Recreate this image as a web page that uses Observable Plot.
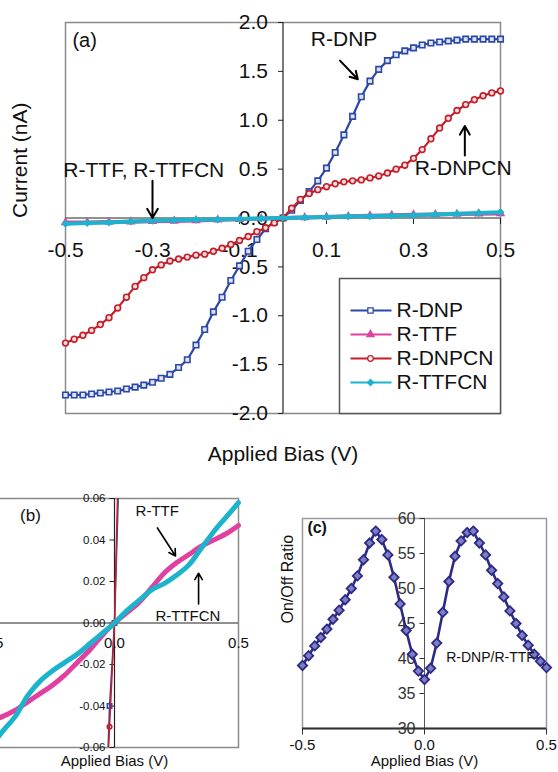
<!DOCTYPE html>
<html><head><meta charset="utf-8">
<script src="https://cdn.jsdelivr.net/npm/d3@7"></script>
<script src="https://cdn.jsdelivr.net/npm/@observablehq/plot@0.6"></script>
<style>
html,body{margin:0;padding:0;background:#fff;}
#fig{position:relative;width:558px;height:772px;overflow:hidden;background:#fff;}
</style></head><body><div id="fig"></div>
<script>
// ---------- data ----------
const biasA = [-0.50,-0.48,-0.46,-0.44,-0.42,-0.40,-0.38,-0.36,-0.34,-0.32,-0.30,-0.28,-0.26,-0.24,-0.22,-0.20,-0.18,-0.16,-0.14,-0.12,-0.10,-0.08,-0.06,-0.04,-0.02,0.00,0.02,0.04,0.06,0.08,0.10,0.12,0.14,0.16,0.18,0.20,0.22,0.24,0.26,0.28,0.30,0.32,0.34,0.36,0.38,0.40,0.42,0.44,0.46,0.48,0.50];
const currentDNP = [-1.81,-1.81,-1.81,-1.80,-1.79,-1.78,-1.77,-1.75,-1.73,-1.71,-1.68,-1.64,-1.60,-1.53,-1.45,-1.30,-1.14,-0.96,-0.81,-0.64,-0.49,-0.34,-0.22,-0.11,-0.04,0.00,0.08,0.18,0.27,0.38,0.51,0.67,0.85,1.04,1.24,1.40,1.52,1.61,1.67,1.71,1.74,1.77,1.79,1.80,1.81,1.82,1.83,1.83,1.83,1.83,1.83];
const currentDNPCN = [-1.28,-1.24,-1.20,-1.15,-1.09,-1.02,-0.92,-0.81,-0.70,-0.61,-0.53,-0.48,-0.44,-0.42,-0.40,-0.38,-0.37,-0.34,-0.31,-0.27,-0.23,-0.19,-0.14,-0.10,-0.05,0.00,0.10,0.19,0.25,0.29,0.32,0.35,0.37,0.38,0.39,0.41,0.43,0.46,0.50,0.54,0.61,0.70,0.81,0.92,1.02,1.10,1.16,1.21,1.25,1.28,1.30];
const biasB = [-0.50,-0.45,-0.40,-0.35,-0.30,-0.25,-0.20,-0.15,-0.10,-0.05,0.00,0.05,0.10,0.15,0.20,0.25,0.30,0.35,0.40,0.45,0.50];
const currentTTF = [-0.047,-0.045,-0.042,-0.038,-0.034,-0.030,-0.025,-0.019,-0.013,-0.006,0.000,0.005,0.010,0.017,0.024,0.029,0.033,0.037,0.040,0.043,0.047];
const currentTTFCN = [-0.060,-0.052,-0.045,-0.035,-0.028,-0.023,-0.019,-0.015,-0.010,-0.005,0.000,0.006,0.011,0.016,0.019,0.023,0.028,0.036,0.044,0.051,0.058];
const biasC = [-0.500,-0.475,-0.450,-0.425,-0.400,-0.375,-0.350,-0.325,-0.300,-0.275,-0.250,-0.225,-0.200,-0.175,-0.150,-0.125,-0.100,-0.075,-0.050,-0.025,0.000,0.025,0.050,0.075,0.100,0.125,0.150,0.175,0.200,0.225,0.250,0.275,0.300,0.325,0.350,0.375,0.400,0.425,0.450,0.475,0.500];
const onOffRatio = [39.0,40.4,41.8,43.0,44.2,45.6,46.9,48.4,50.0,51.8,54.1,56.5,58.2,57.0,54.8,51.6,47.8,44.0,40.6,38.2,37.0,38.6,42.2,46.6,51.0,54.6,56.8,58.0,58.2,56.5,54.8,52.6,50.7,48.8,46.8,45.0,43.3,41.9,40.6,39.6,38.7];

const seriesNames = ["R-DNP","R-TTF","R-DNPCN","R-TTFCN"];
const yTicksA = [-2.0,-1.5,-1.0,-0.5,0.0,0.5,1.0,1.5,2.0];
const xTicksA = [-0.5,-0.3,-0.1,0.1,0.3,0.5];
const yTicksB = [-0.06,-0.04,-0.02,0.00,0.02,0.04,0.06];
const xTicksB = [-0.5,0.0,0.5];
const yTicksC = [30,35,40,45,50,55,60];
const xTicksC = [-0.5,0.0,0.5];

// ---------- styles ----------
const FONT = '"Liberation Sans", Arial, Helvetica, sans-serif';
const PALETTE = {"R-DNP":"#2b48a8","R-TTF":"#e0409f","R-DNPCN":"#c41e2a","R-TTFCN":"#1cb4cc"};
const NAVY = "#2d2a86";
const colorScale = {domain: seriesNames, range: seriesNames.map(s => PALETTE[s])};
const tickLeft = {draw(ctx){ ctx.moveTo(-5,0); ctx.lineTo(0,0); }};
const tickDown = {draw(ctx){ ctx.moveTo(0,0); ctx.lineTo(0,6); }};

// ---------- tables ----------
const rowsDNP = biasA.map((v,i) => ({v, c: currentDNP[i], s: "R-DNP"}));
const rowsDNPCN = biasA.map((v,i) => ({v, c: currentDNPCN[i], s: "R-DNPCN"}));
const rowsTTF = biasB.map((v,i) => ({v, c: currentTTF[i], s: "R-TTF"}));
const rowsTTFCN = biasB.map((v,i) => ({v, c: currentTTFCN[i], s: "R-TTFCN"}));
const rowsRatio = biasC.map((v,i) => ({v, r: onOffRatio[i]}));

const fig = document.getElementById("fig");
function place(el, left, top){
  el.style.position = "absolute";
  el.style.left = left + "px";
  el.style.top = top + "px";
  el.style.maxWidth = "none";
  el.style.background = "transparent";
  el.style.overflow = "visible";
  fig.appendChild(el);
}

// ---------- panel (a) ----------
const plotA = Plot.plot({
  width: 558, height: 480,
  marginLeft: 65, marginRight: 58, marginTop: 22, marginBottom: 67,
  style: {fontFamily: FONT},
  x: {domain: [-0.5, 0.5], axis: null},
  y: {domain: [-2, 2], axis: null},
  color: colorScale,
  marks: [
    Plot.frame({stroke: "#8a8a8a", strokeWidth: 1.5}),
    Plot.ruleY([0], {stroke: "#222", strokeWidth: 1.2}),
    Plot.ruleX([0], {stroke: "#222", strokeWidth: 1.2}),
    Plot.dot(yTicksA, {x: 0, y: d => d, symbol: tickLeft, stroke: "#222", fill: "none", strokeWidth: 1}),
    Plot.dot(xTicksA, {x: d => d, y: 0, symbol: tickDown, stroke: "#222", fill: "none", strokeWidth: 1}),
    Plot.text(yTicksA, {x: 0, y: d => d, text: d => d.toFixed(1), textAnchor: "end", dx: -15, fontSize: 21, fill: "#111"}),
    Plot.text(xTicksA, {x: d => d, y: 0, text: d => d.toFixed(1), dy: 32, fontSize: 21, fill: "#111"}),
    Plot.line(rowsDNP, {x: "v", y: "c", stroke: "s", strokeWidth: 2.2}),
    Plot.dot(rowsDNP, {x: "v", y: "c", stroke: "s", fill: "#dfe4f4", symbol: "square", r: 3.1, strokeWidth: 1.6}),
    Plot.line(rowsTTF, {x: "v", y: "c", stroke: "s", strokeWidth: 4}),
    Plot.dot(rowsTTF, {x: "v", y: "c", fill: "s", symbol: "triangle", r: 3.5}),
    Plot.line(rowsDNPCN, {x: "v", y: "c", stroke: "s", strokeWidth: 2.2}),
    Plot.dot(rowsDNPCN, {x: "v", y: "c", stroke: "s", fill: "#f4dcdc", r: 2.9, strokeWidth: 1.6}),
    Plot.line(rowsTTFCN, {x: "v", y: "c", stroke: "s", strokeWidth: 4}),
    Plot.dot(rowsTTFCN, {x: "v", y: "c", fill: "s", symbol: "diamond2", r: 3.6}),
    Plot.text(["(a)"], {x: -0.484, y: 1.81, text: d => d, textAnchor: "start", fontSize: 20, fill: "#111"}),
    Plot.text(["R-DNP"], {x: 0.064, y: 1.83, text: d => d, textAnchor: "start", fontSize: 21, fill: "#111"}),
    Plot.arrow([0], {x1: 0.131, y1: 1.61, x2: 0.172, y2: 1.42, stroke: "#000", strokeWidth: 2, headLength: 8}),
    Plot.text(["R-DNPCN"], {x: 0.303, y: 0.51, text: d => d, textAnchor: "start", fontSize: 21, fill: "#111"}),
    Plot.arrow([0], {x1: 0.418, y1: 0.64, x2: 0.418, y2: 0.94, stroke: "#000", strokeWidth: 2, headLength: 8}),
    Plot.text(["R-TTF, R-TTFCN"], {x: -0.505, y: 0.49, text: d => d, textAnchor: "start", fontSize: 21, fill: "#111"}),
    Plot.arrow([0], {x1: -0.30, y1: 0.38, x2: -0.30, y2: 0.0, stroke: "#000", strokeWidth: 2, headLength: 8}),
    Plot.text(["Applied Bias (V)"], {frameAnchor: "bottom", dy: 47, text: d => d, fontSize: 21, fill: "#111"}),
    Plot.text(["Current (nA)"], {frameAnchor: "left", rotate: -90, dx: -45, text: d => d, fontSize: 21, fill: "#111"})
  ]
});
place(plotA, 0, 0);

// legend of (a)
const legendA = Plot.plot({
  width: 161, height: 135, margin: 0,
  style: {fontFamily: FONT},
  x: {domain: [0, 161], axis: null},
  y: {type: "point", domain: seriesNames, range: [18, 117], axis: null},
  color: colorScale,
  marks: [
    Plot.frame({stroke: "#555", strokeWidth: 1.5, fill: "white"}),
    Plot.link(seriesNames, {x1: 11, x2: 52, y1: d => d, y2: d => d, stroke: d => d, strokeWidth: 1.8}),
    Plot.dot(["R-DNP"], {x: 31, y: d => d, symbol: "square", stroke: d => d, fill: "white", r: 3, strokeWidth: 1.3}),
    Plot.dot(["R-TTF"], {x: 31, y: d => d, symbol: "triangle", fill: d => d, r: 3.5}),
    Plot.dot(["R-DNPCN"], {x: 31, y: d => d, stroke: d => d, fill: "white", r: 2.8, strokeWidth: 1.3}),
    Plot.dot(["R-TTFCN"], {x: 31, y: d => d, symbol: "diamond2", fill: d => d, r: 3.5}),
    Plot.text(seriesNames, {x: 57, y: d => d, text: d => d, textAnchor: "start", fontSize: 21, fill: "#111"})
  ]
});
place(legendA, 339, 278);

// ---------- panel (b) ----------
const plotB = Plot.plot({
  width: 268, height: 282,
  marginLeft: 0, marginRight: 20, marginTop: 8, marginBottom: 25,
  style: {fontFamily: FONT},
  x: {domain: [-0.5, 0.5], axis: null},
  y: {domain: [-0.06, 0.06], axis: null},
  color: colorScale,
  marks: [
    Plot.frame({stroke: "#8a8a8a", strokeWidth: 1.5}),
    Plot.ruleY([0], {stroke: "#222", strokeWidth: 1.2}),
    Plot.ruleX([0], {stroke: "#222", strokeWidth: 1.2}),
    Plot.dot(yTicksB, {x: 0, y: d => d, symbol: tickLeft, stroke: "#222", fill: "none", strokeWidth: 1}),
    Plot.text(yTicksB, {x: 0, y: d => d, text: d => d.toFixed(2), textAnchor: "end", dx: -9, fontSize: 11.5, fill: "#111"}),
    Plot.text(xTicksB, {x: d => d, y: 0, text: d => d.toFixed(1), dy: 20, fontSize: 15, fill: "#111"}),
    Plot.line(rowsDNP, {x: "v", y: "c", stroke: "s", strokeWidth: 1.5, clip: true}),
    Plot.dot(rowsDNP, {x: "v", y: "c", stroke: "s", fill: "none", symbol: "square", r: 2.5, clip: true}),
    Plot.line(rowsTTF, {x: "v", y: "c", stroke: "s", strokeWidth: 5, curve: "catmull-rom"}),
    Plot.line(rowsDNPCN, {x: "v", y: "c", stroke: "s", strokeWidth: 1.5, clip: true}),
    Plot.dot(rowsDNPCN, {x: "v", y: "c", stroke: "s", fill: "none", r: 2.3, clip: true}),
    Plot.line(rowsTTFCN, {x: "v", y: "c", stroke: "s", strokeWidth: 5, curve: "catmull-rom"}),
    Plot.text(["(b)"], {x: -0.339, y: 0.0516, text: d => d, fontSize: 17, fill: "#111"}),
    Plot.text(["R-TTF"], {x: 0.085, y: 0.054, text: d => d, textAnchor: "start", fontSize: 15, fill: "#111"}),
    Plot.arrow([0], {x1: 0.173, y1: 0.0458, x2: 0.246, y2: 0.0323, stroke: "#000", strokeWidth: 1.6, headLength: 7}),
    Plot.text(["R-TTFCN"], {x: 0.165, y: 0.0034, text: d => d, textAnchor: "start", fontSize: 15, fill: "#111"}),
    Plot.arrow([0], {x1: 0.339, y1: 0.0092, x2: 0.339, y2: 0.024, stroke: "#000", strokeWidth: 1.6, headLength: 7}),
    Plot.text(["Applied Bias (V)"], {frameAnchor: "bottom", dy: 18, text: d => d, fontSize: 15, fill: "#111"})
  ]
});
place(plotB, -10, 490);

// ---------- panel (c) ----------
const plotC = Plot.plot({
  width: 286, height: 266,
  marginLeft: 30, marginRight: 12, marginTop: 12, marginBottom: 44,
  style: {fontFamily: FONT},
  x: {domain: [-0.5, 0.5], axis: null},
  y: {domain: [30, 60], axis: null},
  marks: [
    Plot.frame({stroke: "#9a9a9a", strokeWidth: 1.5}),
    Plot.ruleX([0], {stroke: "#555", strokeWidth: 1}),
    Plot.ruleY([30], {stroke: "#333", strokeWidth: 2.2}),
    Plot.dot(yTicksC, {x: 0, y: d => d, symbol: tickLeft, stroke: "#333", fill: "none", strokeWidth: 1}),
    Plot.dot(xTicksC, {x: d => d, y: 30, symbol: tickDown, stroke: "#333", fill: "none", strokeWidth: 1}),
    Plot.text(yTicksC, {x: 0, y: d => d, text: d => String(d), textAnchor: "end", dx: -9, fontSize: 16, fill: "#333"}),
    Plot.text(xTicksC, {x: d => d, y: 30, text: d => d.toFixed(1), dy: 17, fontSize: 15, fill: "#111"}),
    Plot.line(rowsRatio, {x: "v", y: "r", stroke: NAVY, strokeWidth: 2.6}),
    Plot.dot(rowsRatio, {x: "v", y: "r", symbol: "diamond2", r: 4.2, stroke: NAVY, fill: "#7e7ec4", strokeWidth: 1.8}),
    Plot.text(["(c)"], {x: -0.48, y: 58.7, text: d => d, textAnchor: "start", fontWeight: "bold", fontSize: 16, fill: "#111"}),
    Plot.text(["R-DNP/R-TTF"], {x: 0.089, y: 40.1, text: d => d, textAnchor: "start", fontSize: 14, fill: "#111"}),
    Plot.text(["Applied Bias (V)"], {frameAnchor: "bottom", dy: 37, text: d => d, fontSize: 15, fill: "#111"}),
    Plot.text(["On/Off Ratio"], {frameAnchor: "left", rotate: -90, dx: -15, text: d => d, fontSize: 16, fill: "#111"})
  ]
});
place(plotC, 272, 506);
</script></body></html>
